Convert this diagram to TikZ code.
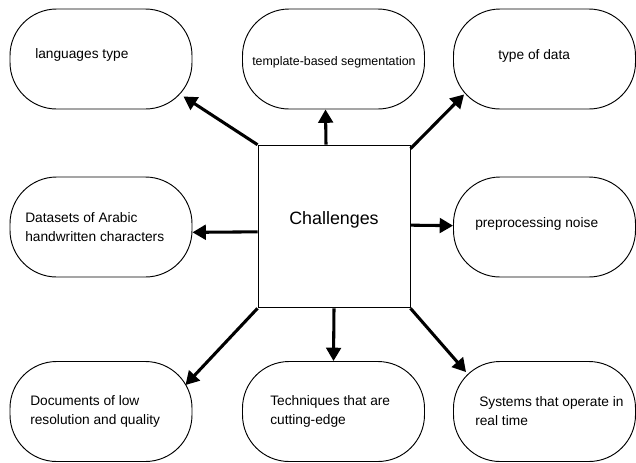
\documentclass[tikz,border=0pt]{standalone}
\usepackage{fontspec}
\setmainfont{Liberation Sans}
\usetikzlibrary{calc,arrows.meta}

\begin{document}
\begin{tikzpicture}[x=0.75pt,y=-0.75pt,
  chbox/.style={draw,line width=0.7pt,rounded corners=35pt,minimum width=136.5pt,minimum height=75pt,inner sep=0pt},
  txt/.style={anchor=west,align=left,inner sep=0pt,font=\fontsize{10.3}{14.2}\selectfont},
  arr/.style={line width=2.3pt,-{Triangle[length=10pt,width=11pt]}}]
\useasboundingbox (0,0) rectangle (636,462);
\node[draw,line width=0.7pt,minimum width=114pt,minimum height=122pt,text depth=13pt,font=\fontsize{13.4}{16}\selectfont] (chal) at (334,226.5) {Challenges};
\node[chbox] (lang) at (101,59) {};
\node[chbox] (tmpl) at (333.5,59) {};
\node[chbox] (data) at (544.5,59) {};
\node[chbox] (ds) at (101,227) {};
\node[chbox] (prep) at (544.5,227) {};
\node[chbox] (docs) at (101,411.5) {};
\node[chbox] (tech) at (333.5,411.5) {};
\node[chbox] (sys) at (544.5,411.5) {};
\node[txt] (langtxt) at (35,55) {languages type};
\node[txt,font=\fontsize{9.3}{12}\selectfont] (tmpltxt) at (252,62) {template-based segmentation};
\node[txt] (datatxt) at (498,56) {type of data};
\node[txt] (dstxt) at (25,227.5) {Datasets of Arabic\\handwritten characters};
\node[txt] (preptxt) at (475,224) {preprocessing noise};
\node[txt] (docstxt) at (30,411) {Documents of low\\resolution and quality};
\node[txt] (techtxt) at (270,411) {Techniques that are\\cutting-edge};
\node[txt] (systxt) at (475,411) {\hspace*{3pt}Systems that operate in\\real time};
\draw[arr] (chal.north west) -- ($(lang.south east)+(-9,-13)$);
\draw[arr] ([xshift=-6pt]chal.north) -- ([xshift=-6pt]tmpl.south);
\draw[arr] ([yshift=-3pt]chal.north east) -- ($(data.south west)+(11,-15)$);
\draw[arr] ([yshift=-4pt]chal.west) -- ([yshift=-4pt]ds.east);
\draw[arr] ([yshift=1pt]chal.east) -- ([yshift=1pt]prep.west);
\draw[arr] (chal.south west) -- ($(docs.north east)+(-7,24)$);
\draw[arr] (chal.south) -- (tech.north);
\draw[arr] (chal.south east) -- ($(sys.north west)+(13,11)$);
\end{tikzpicture}
\end{document}
